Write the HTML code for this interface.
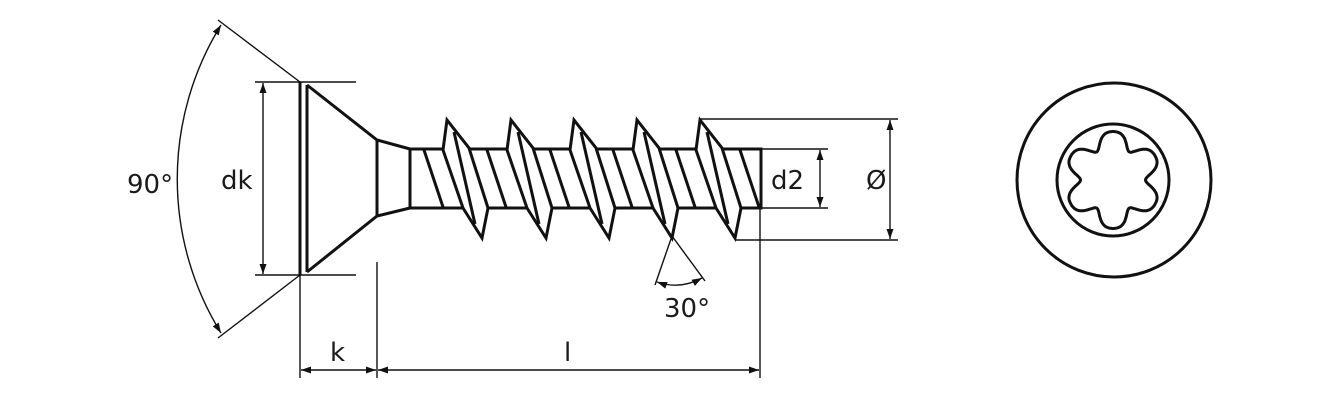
<!DOCTYPE html>
<html><head><meta charset="utf-8"><style>
html,body{margin:0;padding:0;background:#fff;}
svg{display:block}
text{font-family:"DejaVu Sans","Liberation Sans",sans-serif;font-size:26px;fill:#1a1a1a}
</style></head><body>
<svg width="1340" height="400" viewBox="0 0 1340 400" xmlns="http://www.w3.org/2000/svg">
<defs>
<marker id="a" viewBox="0 0 10 10" refX="10" refY="5" markerWidth="14" markerHeight="10" markerUnits="userSpaceOnUse" orient="auto-start-reverse"><path d="M0,1.5 L10,5 L0,8.5 Z" fill="#111"/></marker>
</defs>
<g stroke="#111" stroke-width="1.4" fill="none">
<line x1="300" y1="82" x2="218" y2="20"/>
<line x1="300" y1="275" x2="218" y2="338"/>
<path d="M221,25 A293,293 0 0 0 221,333" marker-start="url(#a)" marker-end="url(#a)"/>
<line x1="255" y1="82" x2="356" y2="82"/>
<line x1="255" y1="275" x2="356" y2="275"/>
<line x1="263" y1="83" x2="263" y2="274" marker-start="url(#a)" marker-end="url(#a)"/>
<line x1="300" y1="275" x2="300" y2="378"/>
<line x1="377" y1="262" x2="377" y2="378"/>
<line x1="760" y1="208" x2="760" y2="378"/>
<line x1="301" y1="370" x2="376" y2="370" marker-start="url(#a)" marker-end="url(#a)"/>
<line x1="378" y1="370" x2="759" y2="370" marker-start="url(#a)" marker-end="url(#a)"/>
<line x1="761" y1="149" x2="828" y2="149"/>
<line x1="761" y1="208" x2="828" y2="208"/>
<line x1="820" y1="150" x2="820" y2="207" marker-start="url(#a)" marker-end="url(#a)"/>
<line x1="700" y1="119" x2="898" y2="119"/>
<line x1="735" y1="240" x2="898" y2="240"/>
<line x1="890" y1="120" x2="890" y2="239" marker-start="url(#a)" marker-end="url(#a)"/>
<line x1="672" y1="236" x2="655" y2="285"/>
<line x1="672" y1="236" x2="705" y2="281"/>
<path d="M657,282 Q680,290 702,278" marker-start="url(#a)" marker-end="url(#a)"/>
</g>
<g stroke="#111" stroke-width="3" fill="none" stroke-linejoin="miter">
<line x1="300" y1="82" x2="300" y2="275"/>
<line x1="307" y1="85" x2="307" y2="272"/>
<path d="M307,85 L377,140 L410,149 M307,272 L377,216 L410,208"/>
<line x1="377" y1="140" x2="377" y2="216"/>
<rect x="410" y="149" width="351" height="59" fill="#fff"/>
<line x1="424" y1="150" x2="443" y2="207"/>
<line x1="487" y1="150" x2="506" y2="207"/>
<line x1="550" y1="150" x2="569" y2="207"/>
<line x1="613" y1="150" x2="632" y2="207"/>
<line x1="676" y1="150" x2="695" y2="207"/>
<line x1="740" y1="150" x2="759" y2="207"/>
</g>
<g stroke="#111" stroke-width="3" fill="#fff" stroke-linejoin="miter">
<path d="M443,150 L447,120 L469,148 L488,208 L482,238 L463,208 Z"/><line x1="454" y1="132" x2="475" y2="224"/>
<path d="M507,150 L511,120 L533,148 L552,208 L546,238 L527,208 Z"/><line x1="518" y1="132" x2="539" y2="224"/>
<path d="M570,150 L574,120 L596,148 L615,208 L609,238 L590,208 Z"/><line x1="581" y1="132" x2="602" y2="224"/>
<path d="M633,150 L637,120 L659,148 L678,208 L672,238 L653,208 Z"/><line x1="644" y1="132" x2="665" y2="224"/>
<path d="M696,150 L700,120 L722,148 L741,208 L735,238 L716,208 Z"/><line x1="707" y1="132" x2="728" y2="224"/>
</g>
<g stroke="#111" stroke-width="3" fill="none">
<circle cx="1114" cy="180" r="97"/>
<circle cx="1113" cy="180" r="56"/>
<path id="torx" d=""/>
</g>
<text x="127" y="193">90°</text>
<text x="221" y="189">dk</text>
<text x="330" y="361">k</text>
<text x="564" y="361">l</text>
<text x="771" y="189">d2</text>
<text x="866" y="189">Ø</text>
<text x="664" y="317">30°</text>
<script>
(function(){
var d='',cx=1113,cy=180;
for(var i=0;i<=360;i++){var t=i*Math.PI/180;var r=42+8*Math.cos(6*t)-1.5*Math.cos(12*t);
var x=cx+r*Math.sin(t),y=cy-r*Math.cos(t);d+=(i?'L':'M')+x.toFixed(1)+','+y.toFixed(1);}
document.getElementById('torx').setAttribute('d',d+'Z');
})();
</script>
</svg>
</body></html>
